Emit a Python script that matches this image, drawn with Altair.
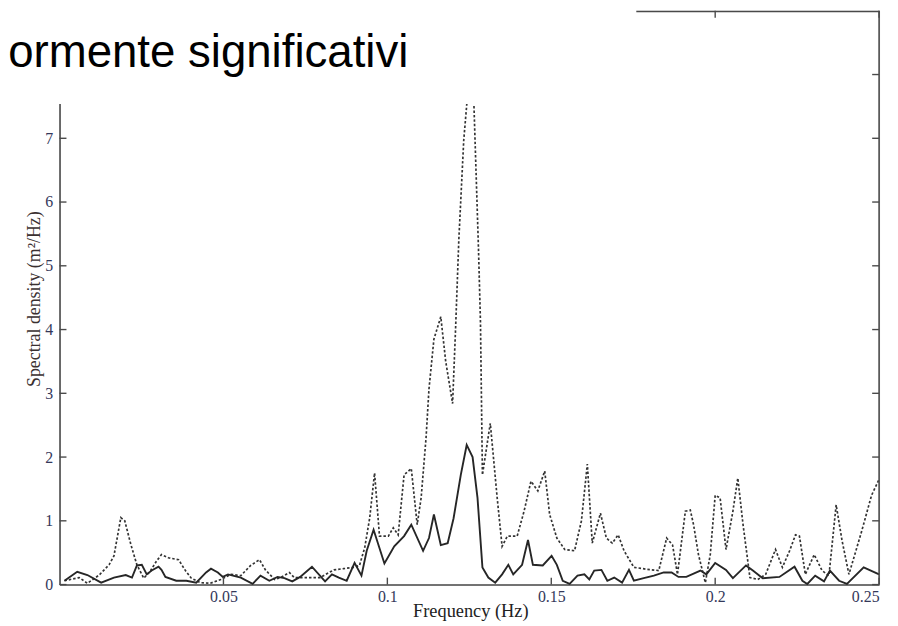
import altair as alt
import pandas as pd

# ---- data ----
freq_dotted = [0.0015, 0.0060, 0.0085, 0.0121, 0.0151, 0.0166, 0.0187, 0.0199, 0.0218, 0.0236,
               0.0257, 0.0278, 0.0296, 0.0311, 0.0332, 0.0363, 0.0384, 0.0402, 0.0429, 0.0459,
               0.0492, 0.0523, 0.0553, 0.0583, 0.0610, 0.0628, 0.0656, 0.0674, 0.0701, 0.0716,
               0.0746, 0.0795, 0.0822, 0.0837, 0.0867, 0.0897, 0.0915, 0.0931, 0.0946, 0.0961,
               0.0976, 0.1003, 0.1018, 0.1033, 0.1051, 0.1073, 0.1091, 0.1103, 0.1118, 0.1127,
               0.1142, 0.1163, 0.1178, 0.1199, 0.1208, 0.1218, 0.1233, 0.1245, 0.1254, 0.1263,
               0.1278, 0.1284, 0.1290, 0.1314, 0.1335, 0.1350, 0.1366, 0.1396, 0.1417, 0.1438,
               0.1459, 0.1480, 0.1495, 0.1517, 0.1541, 0.1571, 0.1592, 0.1610, 0.1625, 0.1650,
               0.1668, 0.1686, 0.1704, 0.1722, 0.1752, 0.1792, 0.1828, 0.1852, 0.1870, 0.1885,
               0.1909, 0.1924, 0.1934, 0.1949, 0.1970, 0.1985, 0.2000, 0.2015, 0.2033, 0.2054,
               0.2069, 0.2085, 0.2106, 0.2130, 0.2154, 0.2184, 0.2205, 0.2227, 0.2245, 0.2257,
               0.2275, 0.2302, 0.2326, 0.2347, 0.2369, 0.2387, 0.2408, 0.2447, 0.2477, 0.2500]
dens_dotted = [0.06, 0.11, 0.02, 0.15, 0.31, 0.45, 1.05, 1.00, 0.62, 0.31,
               0.10, 0.22, 0.37, 0.47, 0.42, 0.39, 0.22, 0.10, 0.03, 0.02,
               0.08, 0.16, 0.14, 0.30, 0.39, 0.23, 0.08, 0.11, 0.19, 0.11,
               0.11, 0.11, 0.19, 0.23, 0.25, 0.27, 0.30, 0.58, 1.04, 1.75,
               0.76, 0.76, 0.89, 0.78, 1.72, 1.82, 0.94, 1.36, 2.30, 3.07,
               3.85, 4.20, 3.50, 2.84, 4.00, 5.41, 6.97, 7.70, 8.10, 7.70,
               5.26, 4.12, 1.72, 2.53, 1.36, 0.60, 0.76, 0.76, 1.15, 1.62,
               1.47, 1.78, 1.10, 0.73, 0.55, 0.53, 1.00, 1.89, 0.65, 1.12,
               0.73, 0.65, 0.78, 0.53, 0.27, 0.24, 0.22, 0.73, 0.62, 0.16,
               1.15, 1.17, 0.94, 0.47, 0.03, 0.47, 1.40, 1.36, 0.55, 1.15,
               1.67, 0.94, 0.11, 0.08, 0.16, 0.55, 0.27, 0.53, 0.78, 0.76,
               0.16, 0.47, 0.22, 0.14, 1.25, 0.69, 0.16, 0.84, 1.40, 1.65]

freq_solid = [0.0015, 0.0054, 0.0085, 0.0127, 0.0166, 0.0202, 0.0221, 0.0236, 0.0251, 0.0266,
              0.0281, 0.0302, 0.0311, 0.0323, 0.0356, 0.0387, 0.0417, 0.0447, 0.0462, 0.0483,
              0.0498, 0.0514, 0.0553, 0.0589, 0.0613, 0.0640, 0.0665, 0.0686, 0.0710, 0.0734,
              0.0770, 0.0810, 0.0831, 0.0852, 0.0876, 0.0900, 0.0921, 0.0937, 0.0958, 0.0991,
              0.1021, 0.1051, 0.1073, 0.1109, 0.1127, 0.1142, 0.1163, 0.1184, 0.1202, 0.1224,
              0.1242, 0.1260, 0.1275, 0.1290, 0.1308, 0.1329, 0.1350, 0.1369, 0.1384, 0.1411,
              0.1429, 0.1444, 0.1474, 0.1501, 0.1517, 0.1535, 0.1556, 0.1580, 0.1601, 0.1616,
              0.1631, 0.1653, 0.1671, 0.1692, 0.1716, 0.1737, 0.1752, 0.1782, 0.1813, 0.1843,
              0.1867, 0.1888, 0.1912, 0.1955, 0.1973, 0.2000, 0.2033, 0.2054, 0.2094, 0.2115,
              0.2145, 0.2196, 0.2242, 0.2266, 0.2281, 0.2305, 0.2332, 0.2350, 0.2378, 0.2402,
              0.2453, 0.2500]
dens_solid = [0.06, 0.20, 0.15, 0.03, 0.11, 0.15, 0.11, 0.30, 0.31, 0.16,
              0.22, 0.28, 0.23, 0.12, 0.06, 0.06, 0.03, 0.19, 0.25, 0.19,
              0.12, 0.16, 0.11, 0.01, 0.14, 0.06, 0.12, 0.10, 0.05, 0.12,
              0.28, 0.05, 0.16, 0.11, 0.06, 0.34, 0.14, 0.53, 0.86, 0.33,
              0.60, 0.76, 0.94, 0.53, 0.73, 1.10, 0.62, 0.65, 1.04, 1.72,
              2.19, 2.00, 1.36, 0.27, 0.11, 0.03, 0.16, 0.31, 0.16, 0.31,
              0.70, 0.31, 0.30, 0.45, 0.31, 0.06, 0.01, 0.14, 0.16, 0.08,
              0.22, 0.23, 0.06, 0.11, 0.03, 0.23, 0.06, 0.10, 0.14, 0.19,
              0.19, 0.12, 0.12, 0.22, 0.16, 0.34, 0.23, 0.10, 0.30, 0.22,
              0.10, 0.12, 0.28, 0.06, 0.01, 0.14, 0.05, 0.22, 0.06, 0.01,
              0.27, 0.16]

x_ticks = [0.05, 0.1, 0.15, 0.2, 0.25]
y_ticks = [0, 1, 2, 3, 4, 5, 6, 7, 8]
y_labels = [0, 1, 2, 3, 4, 5, 6, 7]

title_text = "ormente significativi"
x_title = "Frequency (Hz)"
y_title = "Spectral density (m\u00b2/Hz)"

# ---- chart ----
W, H = 827, 579
TICK = 7
AX = "#4a4a4a"
LBL = "#34385a"
SERIF = "Liberation Serif"

xs = alt.Scale(domain=[0, 0.25], nice=False, zero=False)
ys = alt.Scale(domain=[0, 9], nice=False, zero=False)

df_s = pd.DataFrame({"f": freq_solid, "d": dens_solid})
df_d = pd.DataFrame({"f": freq_dotted, "d": dens_dotted})
df_xt = pd.DataFrame({"f": x_ticks})
df_yt = pd.DataFrame({"d": y_ticks})
one = pd.DataFrame({"k": [0]})

x_axis = alt.Axis(
    orient="bottom", values=x_ticks, format="~g", ticks=False, tickSize=0, grid=False,
    domainColor=AX, domainWidth=1.6,
    labelFont=SERIF, labelFontSize=16, labelColor=LBL, labelPadding=4,
    title=x_title, titleFont=SERIF, titleFontSize=18.5, titleFontWeight="normal",
    titleColor="#222222", titleX=W / 2 + 1, titleY=32, titleBaseline="alphabetic",
    titleAlign="center",
)
y_axis = alt.Axis(
    orient="left", values=y_labels, format="d", ticks=False, tickSize=0, grid=False,
    domainColor=AX, domainWidth=1.6,
    labelFont=SERIF, labelFontSize=16, labelColor=LBL, labelPadding=7,
    title=y_title, titleFont=SERIF, titleFontSize=18, titleFontWeight="normal",
    titleColor="#3a3030", titleAngle=270, titleX=-20, titleY=H / 2 + 1,
    titleBaseline="alphabetic", titleAlign="center",
)
X = alt.X("f:Q", scale=xs, axis=x_axis)
Y = alt.Y("d:Q", scale=ys, axis=y_axis)

solid = alt.Chart(df_s).mark_line(color="#262626", strokeWidth=1.9).encode(x=X, y=Y)
dotted = alt.Chart(df_d).mark_line(color="#333333", strokeWidth=1.7, strokeDash=[2.5, 2]).encode(x=X, y=Y)

frame_top = alt.Chart(one).mark_rule(color=AX, strokeWidth=1.6).encode(
    x=alt.value(0), x2=alt.value(W), y=alt.value(0.8))
frame_right = alt.Chart(one).mark_rule(color=AX, strokeWidth=1.6).encode(
    x=alt.value(W), y=alt.value(0), y2=alt.value(H))

tick_bottom = alt.Chart(df_xt).mark_rule(color=AX, strokeWidth=1.4).encode(
    x=X, y=alt.value(H), y2=alt.value(H - TICK))
tick_top = alt.Chart(df_xt).mark_rule(color=AX, strokeWidth=1.4).encode(
    x=X, y=alt.value(0), y2=alt.value(TICK))
tick_left = alt.Chart(df_yt).mark_rule(color=AX, strokeWidth=1.4).encode(
    y=Y, x=alt.value(0), x2=alt.value(TICK))
tick_right = alt.Chart(df_yt).mark_rule(color=AX, strokeWidth=1.4).encode(
    y=Y, x=alt.value(W - TICK), x2=alt.value(W))

# white slide box covering the top-left of the figure, with the slide heading
cover = alt.Chart(one).mark_rect(color="white").encode(
    x=alt.value(-70), x2=alt.value(582), y=alt.value(-10), y2=alt.value(94))
heading = alt.Chart(one).mark_text(
    text=title_text, align="right", baseline="alphabetic", fontSize=46,
    font="Liberation Sans", color="black",
).encode(x=alt.value(352), y=alt.value(57))

chart = alt.layer(
    dotted, solid, frame_top, frame_right, tick_bottom, tick_top, tick_left, tick_right,
    cover, heading,
).properties(
    width=W, height=H,
    autosize=alt.AutoSizeParams(type="none"),
    padding={"left": 52, "top": 0, "right": 11, "bottom": 39},
).configure_view(stroke=None).configure(background="white")

chart.save("out.html", embed_options={"renderer": "svg", "actions": False})
